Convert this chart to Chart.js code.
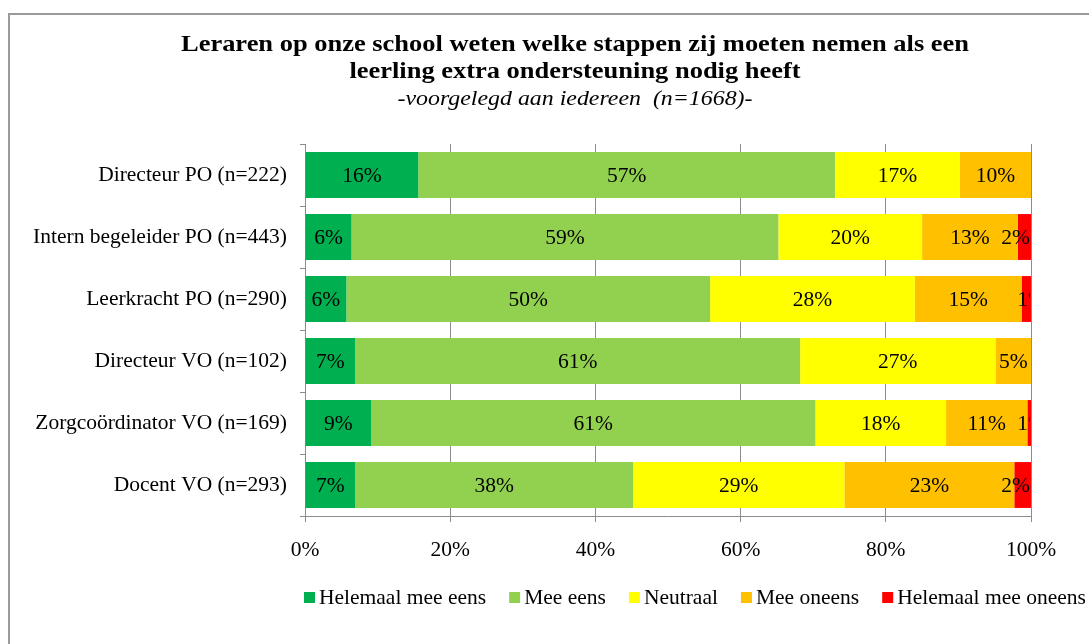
<!DOCTYPE html>
<html>
<head>
<meta charset="utf-8">
<script src="https://cdn.jsdelivr.net/npm/chart.js@4"></script>
<style>
html,body{margin:0;padding:0;background:#fff;}
#wrap{position:relative;width:1089px;height:644px;}
</style>
</head>
<body>
<div id="wrap"><canvas id="c" width="1089" height="644"></canvas></div>
<script>
const categories = ['Directeur PO (n=222)','Intern begeleider PO (n=443)','Leerkracht PO (n=290)','Directeur VO (n=102)','Zorgcoördinator VO (n=169)','Docent VO (n=293)'];
const seriesNames = ['Helemaal mee eens','Mee eens','Neutraal','Mee oneens','Helemaal mee oneens'];
const helemaalMeeEens   = [15.6, 6.4, 5.7, 6.9, 9.1, 6.9];
const meeEens           = [57.4, 58.8, 50.1, 61.3, 61.2, 38.3];
const neutraal          = [17.2, 19.8, 28.2, 26.9, 18.0, 29.1];
const meeOneens         = [9.8, 13.2, 14.7, 4.9, 11.2, 23.4];
const helemaalMeeOneens = [0, 1.8, 1.3, 0, 0.5, 2.3];
const xTickLabels = ['0%','20%','40%','60%','80%','100%'];
const colors = ['#00B050','#92D050','#FFFF00','#FFC000','#FF0000'];

const titleLines = ['Leraren op onze school weten welke stappen zij moeten nemen als een','leerling extra ondersteuning nodig heeft'];
const subtitleText = '-voorgelegd aan iedereen  (n=1668)-';

const FONT = '"Liberation Serif", serif';
const FS = 21.5;

const seriesValues = [helemaalMeeEens, meeEens, neutraal, meeOneens, helemaalMeeOneens];

function stretchText(ctx, text, cx, cy, sx) {
  ctx.save();
  ctx.translate(cx, cy);
  ctx.scale(sx, 1);
  ctx.fillText(text, 0, 0);
  ctx.restore();
}

const framePlugin = {
  id: 'frame',
  beforeDraw(chart) {
    const ctx = chart.ctx;
    ctx.save();
    ctx.fillStyle = '#fff';
    ctx.fillRect(0,0,chart.width,chart.height);
    ctx.strokeStyle = '#9a9a9a';
    ctx.lineWidth = 2;
    ctx.strokeRect(9, 14, 1200, 1000);
    ctx.restore();
  },
  afterDraw(chart) {
    const ctx = chart.ctx;
    ctx.save();
    ctx.fillStyle = '#000';
    ctx.textAlign = 'center';
    ctx.textBaseline = 'middle';
    ctx.font = 'bold 23px ' + FONT;
    const sxT = 788 / ctx.measureText(titleLines[0]).width;
    stretchText(ctx, titleLines[0], 575, 45, sxT);
    stretchText(ctx, titleLines[1], 575, 72, sxT);
    ctx.font = 'italic 20px ' + FONT;
    const sxS = 355 / ctx.measureText(subtitleText).width;
    stretchText(ctx, subtitleText, 575, 100, sxS);
    // legend
    ctx.font = FS + 'px ' + FONT;
    ctx.textAlign = 'left';
    let x = 304;
    const y = 598;
    chart.data.datasets.forEach((ds, i) => {
      ctx.fillStyle = ds.backgroundColor;
      ctx.fillRect(x, y - 6, 11, 11);
      ctx.fillStyle = '#000';
      ctx.fillText(ds.label, x + 15, y);
      x += 15 + ctx.measureText(ds.label).width + 23;
    });
    ctx.restore();
  }
};

const labelPlugin = {
  id: 'segLabels',
  afterDatasetsDraw(chart) {
    const ctx = chart.ctx;
    const a = chart.chartArea;
    ctx.save();
    ctx.beginPath();
    ctx.rect(a.left, a.top, a.right - a.left - 1, a.bottom - a.top);
    ctx.clip();
    ctx.font = FS + 'px ' + FONT;
    ctx.fillStyle = '#000';
    ctx.textBaseline = 'middle';
    chart.data.datasets.forEach((ds, di) => {
      const meta = chart.getDatasetMeta(di);
      meta.data.forEach((bar, i) => {
        const v = ds.data[i];
        if (!v) return;
        const txt = Math.round(v) + '%';
        const w = ctx.measureText(txt).width;
        const cx = (bar.x + bar.base) / 2;
        if (cx + w / 2 <= a.right - 1) {
          ctx.textAlign = 'center';
          ctx.fillText(txt, cx, bar.y + 1);
        } else if (v >= 1.5) {
          ctx.textAlign = 'right';
          ctx.fillText(txt, a.right - 1, bar.y + 1);
        } else {
          ctx.textAlign = 'left';
          const dw = ctx.measureText(String(Math.round(v))).width;
          ctx.fillText(txt, Math.min(cx - dw / 2, a.right - 3 - dw), bar.y + 1);
        }
      });
    });
    ctx.restore();
  }
};

new Chart(document.getElementById('c'), {
  type: 'bar',
  data: {
    labels: categories,
    datasets: seriesValues.map((vals, i) => ({
      label: seriesNames[i],
      data: vals,
      backgroundColor: colors[i],
      borderWidth: 0,
      barPercentage: 0.74,
      categoryPercentage: 1.0
    }))
  },
  options: {
    indexAxis: 'y',
    responsive: false,
    animation: false,
    layout: { padding: { left: 0, right: 58, top: 144, bottom: 88 } },
    plugins: { legend: { display: false }, tooltip: { enabled: false }, title: { display: false } },
    scales: {
      x: {
        stacked: true,
        min: 0, max: 100,
        afterFit(scale) { scale.height = 40; },
        afterBuildTicks(scale) { scale.ticks = xTickLabels.map((t, i) => ({ value: i * 20 })); },
        ticks: {
          callback: (v, i) => xTickLabels[i],
          font: { family: FONT, size: FS },
          color: '#000',
          padding: 15,
          maxRotation: 0
        },
        grid: { color: '#8c8c8c', lineWidth: 1, tickLength: 6, drawOnChartArea: true },
        border: { color: '#8c8c8c' }
      },
      y: {
        stacked: true,
        afterFit(scale) { scale.width = 305; },
        ticks: { font: { family: FONT, size: FS }, color: '#000', padding: 13 },
        grid: { offset: true, drawOnChartArea: false, color: '#8c8c8c', tickLength: 5 },
        border: { color: '#8c8c8c' }
      }
    }
  },
  plugins: [framePlugin, labelPlugin]
});
</script>
</body>
</html>
